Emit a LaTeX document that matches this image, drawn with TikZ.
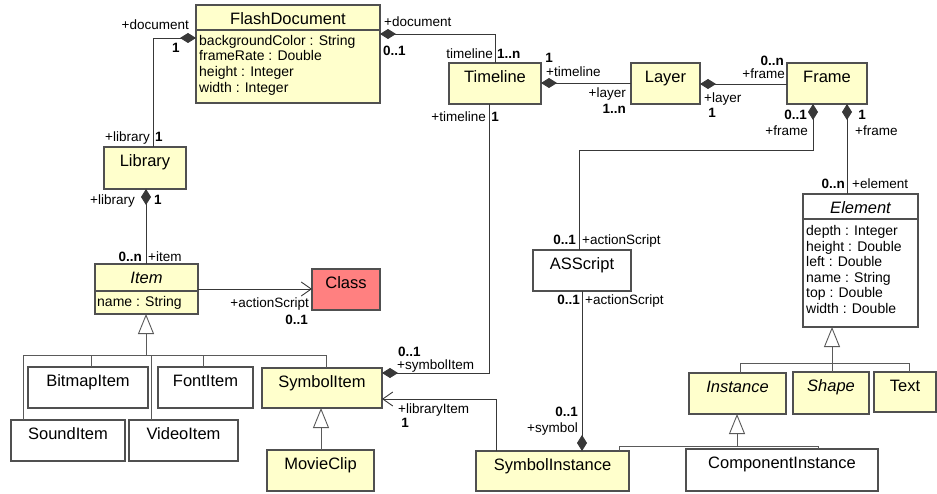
\documentclass[tikz,border=0pt]{standalone}
\usepackage{fontspec}
\setmainfont{Liberation Sans}
\usetikzlibrary{arrows.meta}
\definecolor{yel}{HTML}{FFFFCC}
\definecolor{clsred}{HTML}{FF8080}
\definecolor{boxc}{HTML}{505050}
\definecolor{linec}{HTML}{383838}
\definecolor{genc}{HTML}{5A5A5A}
\tikzset{
  umlbox/.style={draw=boxc, line width=1.3pt, inner sep=0pt, outer sep=0pt},
  yel/.style={fill=yel},
  wht/.style={fill=white},
  red/.style={fill=clsred},
  cname/.style={font=\fontsize{16.5}{18}\selectfont, inner sep=0pt, text height=11.8pt, text depth=0pt},
  attr/.style={font=\fontsize{14}{16}\selectfont, inner sep=0pt, anchor=west, text height=10pt, text depth=0pt},
  lab/.style={font=\fontsize{13.5}{15}\selectfont, inner sep=0pt, text height=9.7pt, text depth=0pt},
  mult/.style={font=\bfseries\fontsize{13.5}{15}\selectfont, inner sep=0pt, text height=9.7pt, text depth=0pt},
  conn/.style={draw=linec, line width=0.9pt},
  genl/.style={draw=genc, line width=0.9pt},
  sepline/.style={draw=boxc, line width=1.2pt},
  comp/.style={conn, {Diamond[length=16pt,width=10pt]}-},
  navig/.style={conn, -{Straight Barb[length=10pt,width=14pt]}},
  gen/.style={genl, -{Triangle[length=20pt,width=16pt,fill=white]}},
}
\newcommand{\mkbox}[7]{%
  \node[umlbox,#6,minimum width={(#4-#2)*1pt},minimum height={(#5-#3)*1pt}] (#1) at ({(#2+#4)/2},{(#3+#5)/2}) {};
  \node[cname] (#1-name) at ([yshift=-14pt]#1.north) {#7};}
\begin{document}
\begin{tikzpicture}[x=1pt,y=-1pt]
\useasboundingbox (0,0) rectangle (937,494);
% ---------------- boxes
\mkbox{fd}{196}{5}{380}{103}{yel}{FlashDocument}
\mkbox{tl}{449}{63}{541}{104}{yel}{Timeline}
\mkbox{layer}{631}{63}{700}{104}{yel}{Layer}
\mkbox{frame}{787}{63}{867}{104}{yel}{Frame}
\mkbox{lib}{104}{147}{186}{189}{yel}{Library}
\mkbox{item}{95}{264}{198}{314}{yel}{\itshape Item}
\mkbox{cls}{312}{269}{380}{310}{red}{Class}
\mkbox{as}{533}{250}{631}{291}{wht}{ASScript}
\mkbox{elem}{803}{194}{918}{327}{wht}{\itshape Element}
\mkbox{bitmap}{28}{367}{148}{408}{wht}{BitmapItem}
\mkbox{font}{158}{367}{253}{408}{wht}{FontItem}
\mkbox{symitem}{262}{368}{382}{408}{yel}{SymbolItem}
\mkbox{sound}{11}{420}{125}{461}{wht}{SoundItem}
\mkbox{video}{129}{420}{238}{461}{wht}{VideoItem}
\mkbox{movie}{267}{450}{374}{491}{yel}{MovieClip}
\mkbox{syminst}{476}{451}{629}{491}{yel}{SymbolInstance}
\mkbox{inst}{689}{373}{786}{414}{yel}{\itshape Instance}
\mkbox{shape}{793}{372}{869}{414}{yel}{\itshape Shape}
\mkbox{text}{874}{372}{936}{412}{yel}{Text}
\mkbox{compinst}{686}{449}{878}{491}{wht}{ComponentInstance}
% compartments
\draw[sepline] (fd.west |- 0,30) -- (fd.east |- 0,30);
\draw[sepline] (item.west |- 0,291) -- (item.east |- 0,291);
\draw[sepline] (elem.west |- 0,219) -- (elem.east |- 0,219);
\node[attr] (fd-a1) at (199,41) {backgroundColor : String};
\node[attr] (fd-a2) at (199,56) {frameRate : Double};
\node[attr] (fd-a3) at (199,72) {height : Integer};
\node[attr] (fd-a4) at (199,88) {width : Integer};
\node[attr] (item-a1) at (97,301) {name : String};
\node[attr] (el-a1) at (806,231) {depth : Integer};
\node[attr] (el-a2) at (806,247) {height : Double};
\node[attr] (el-a3) at (806,262) {left : Double};
\node[attr] (el-a4) at (806,278) {name : String};
\node[attr] (el-a5) at (806,293) {top : Double};
\node[attr] (el-a6) at (806,308) {width : Double};
% ---------------- connectors
\draw[comp] (fd.west |- 0,38) -| (lib.north -| 153,0);
\draw[comp] (fd.east |- 0,34) -| (tl.north -| 495,0);
\draw[comp] (tl.east |- 0,83) -- (layer.west |- 0,83);
\draw[comp] (layer.east |- 0,84) -- (frame.west |- 0,84);
\draw[comp] (frame.south -| 813,0) |- (579,150) -- (as.north -| 579,0);
\draw[comp] (frame.south -| 847,0) -- (elem.north -| 847,0);
\draw[comp] (symitem.east |- 0,373) -| (tl.south -| 489,0);
\draw[comp] (lib.south -| 146,0) -- (item.north -| 146,0);
\draw[navig] (item.east |- 0,289) -- (cls.west |- 0,289);
\draw[comp] (syminst.north -| 582,0) -- (as.south -| 582,0);
\draw[navig] (syminst.north -| 496,0) |- (symitem.east |- 0,399);
% generalisations
\coordinate (g1) at (146,355);
\draw[gen] (g1) -- (item.south -| g1);
\draw[genl] (sound.north -| 23,0) -- (g1 -| 23,0) -- (g1 -| 326,0) -- (symitem.north -| 326,0);
\draw[genl] (bitmap.north -| 91,0) -- (g1 -| 91,0);
\draw[genl] (video.north -| 151,0) -- (g1 -| 151,0);
\draw[genl] (font.north -| 203,0) -- (g1 -| 203,0);
\draw[gen] (movie.north -| 321,0) -- (symitem.south -| 321,0);
\coordinate (g2) at (832,363);
\draw[gen] (g2) -- (elem.south -| g2);
\draw[genl] (inst.north -| 740,0) -- (g2 -| 740,0) -- (g2 -| 909,0) -- (text.north -| 909,0);
\draw[genl] (shape.north -| g2) -- (g2);
\coordinate (g3) at (737,446);
\draw[gen] (g3) -- (inst.south -| g3);
\draw[genl] (syminst.north -| 619,0) -- (g3 -| 619,0) -- (g3 -| 818,0) -- (compinst.north -| 818,0);
% ---------------- labels
\node[lab,anchor=east] (l1) at (189,25) {+document};
\node[mult] (m1) at (176,48) {1};
\node[lab,anchor=east] (l2) at (150,137) {+library};
\node[mult] (m2) at (159,137) {1};
\node[lab,anchor=east] (l3) at (135,200) {+library};
\node[mult] (m3) at (158,200) {1};
\node[mult,anchor=east] (m4) at (142,257) {0..n};
\node[lab,anchor=west] (l4) at (148,257) {+item};
\node[lab,anchor=east] (l5) at (309,303) {+actionScript};
\node[mult,anchor=east] (m5) at (308,320) {0..1};
\node[lab,anchor=west] (l6) at (384,22) {+document};
\node[mult,anchor=west] (m6) at (383,51) {0..1};
\node[lab,anchor=east] (l7) at (493,54) {timeline};
\node[mult,anchor=west] (m7) at (497,54) {1..n};
\node[mult] (m8) at (549,58) {1};
\node[lab,anchor=west] (l8) at (546,72) {+timeline};
\node[lab,anchor=east] (l9) at (626,93) {+layer};
\node[mult,anchor=east] (m9) at (626,109) {1..n};
\node[lab,anchor=west] (l10) at (704,98) {+layer};
\node[mult] (m10) at (712,113) {1};
\node[mult,anchor=east] (m11) at (784,61) {0..n};
\node[lab,anchor=east] (l11) at (785,74) {+frame};
\node[mult,anchor=east] (m12) at (807,115) {0..1};
\node[lab,anchor=east] (l12) at (808,131) {+frame};
\node[mult] (m13) at (862,115) {1};
\node[lab,anchor=west] (l13) at (855,131) {+frame};
\node[mult,anchor=east] (m14) at (845,184) {0..n};
\node[lab,anchor=west] (l14) at (852,184) {+element};
\node[lab,anchor=east] (l15) at (486,117) {+timeline};
\node[mult] (m15) at (495,117) {1};
\node[mult,anchor=west] (m16) at (398,352) {0..1};
\node[lab,anchor=west] (l16) at (397,365) {+symbolItem};
\node[lab,anchor=west] (l17) at (398,409) {+libraryItem};
\node[mult] (m17) at (405,423) {1};
\node[mult,anchor=east] (m18) at (576,240) {0..1};
\node[lab,anchor=west] (l18) at (582,240) {+actionScript};
\node[mult,anchor=east] (m19) at (580,300) {0..1};
\node[lab,anchor=west] (l19) at (585,300) {+actionScript};
\node[mult,anchor=east] (m20) at (578,412) {0..1};
\node[lab,anchor=east] (l20) at (578,428) {+symbol};
\end{tikzpicture}
\end{document}
